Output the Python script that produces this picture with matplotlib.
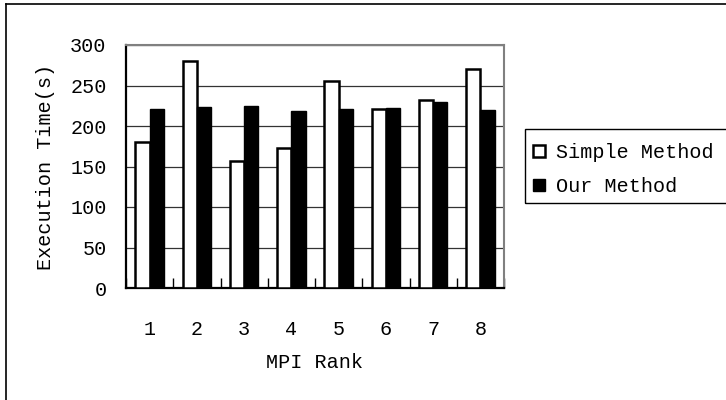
#!/usr/bin/env python
# -*- coding: utf-8 -*-
"""MPI rank execution time: simple method vs our method"""
import matplotlib
matplotlib.use("Agg")
import matplotlib.pyplot as plt
from matplotlib.lines import Line2D
from matplotlib.patches import Patch, Rectangle
import numpy as np

ranks = ["1", "2", "3", "4", "5", "6", "7", "8"]
simple_method = [180, 280, 157, 173, 256, 221, 232, 270]
our_method = [221, 223, 225, 218, 221, 222, 230, 220]
y_ticks = [0, 50, 100, 150, 200, 250, 300]

plt.rcParams["font.family"] = ["Liberation Mono", "DejaVu Sans Mono"]
FS = 14.5

fig = plt.figure(figsize=(7.26, 4.0), dpi=100)
ax = fig.add_axes([126 / 726, 1 - 288 / 400, 378 / 726, 243 / 400])

x = np.arange(len(ranks))
w = 0.3
ax.bar(x - w / 2, simple_method, w, color="white", edgecolor="black", lw=1.8, zorder=3)
ax.bar(x + w / 2, our_method, w, color="black", edgecolor="black", lw=1.0, zorder=3)

ax.set_xlim(-0.5, len(ranks) - 0.5)
ax.set_ylim(0, 300)
ax.set_yticks(y_ticks)
ax.set_yticklabels([str(v) for v in y_ticks], fontsize=FS)
ax.tick_params(axis="y", length=0, pad=14)
ax.yaxis.grid(True, color="#333333", lw=0.9, zorder=0)

# ticks at category boundaries, labels at category centres
ax.set_xticks(np.arange(len(ranks) + 1) - 0.5)
ax.set_xticklabels([])
ax.tick_params(axis="x", which="major", direction="in", length=7, width=1, color="black")
ax.set_xticks(x, minor=True)
ax.set_xticklabels(ranks, minor=True, fontsize=FS)
ax.tick_params(axis="x", which="minor", length=0, pad=23)

for s in ("top", "right"):
    ax.spines[s].set_color("#808080")
    ax.spines[s].set_linewidth(1.5)
for s in ("left", "bottom"):
    ax.spines[s].set_color("black")
    ax.spines[s].set_linewidth(1.6)

ax.set_xlabel("MPI Rank", fontsize=FS, labelpad=10)
ax.set_ylabel("Execution Time(s)", fontsize=FS, labelpad=11)

handles = [
    Patch(facecolor="white", edgecolor="black", lw=1.8, label="Simple Method"),
    Patch(facecolor="black", edgecolor="black", label="Our Method"),
]
leg = fig.legend(
    handles=handles,
    loc="upper left",
    bbox_to_anchor=(529 / 726, 1 - 139 / 400),
    fontsize=FS,
    frameon=False,
    handlelength=0.6,
    handleheight=0.6,
    handletextpad=0.55,
    labelspacing=0.75,
    borderpad=0.2,
    borderaxespad=0,
)
# legend box runs past the right edge of the chart
fig.add_artist(Rectangle((525 / 726, 1 - 203 / 400), 210 / 726, 74 / 400,
                         transform=fig.transFigure, fill=False, edgecolor="black", lw=1.0))

# outer chart border (only top and left visible)
fig.add_artist(Line2D([6 / 726, 1], [1 - 4 / 400, 1 - 4 / 400], color="black", lw=1.2))
fig.add_artist(Line2D([6 / 726, 6 / 726], [0, 1 - 4 / 400], color="black", lw=1.2))

fig.savefig("out.png", dpi=100)
